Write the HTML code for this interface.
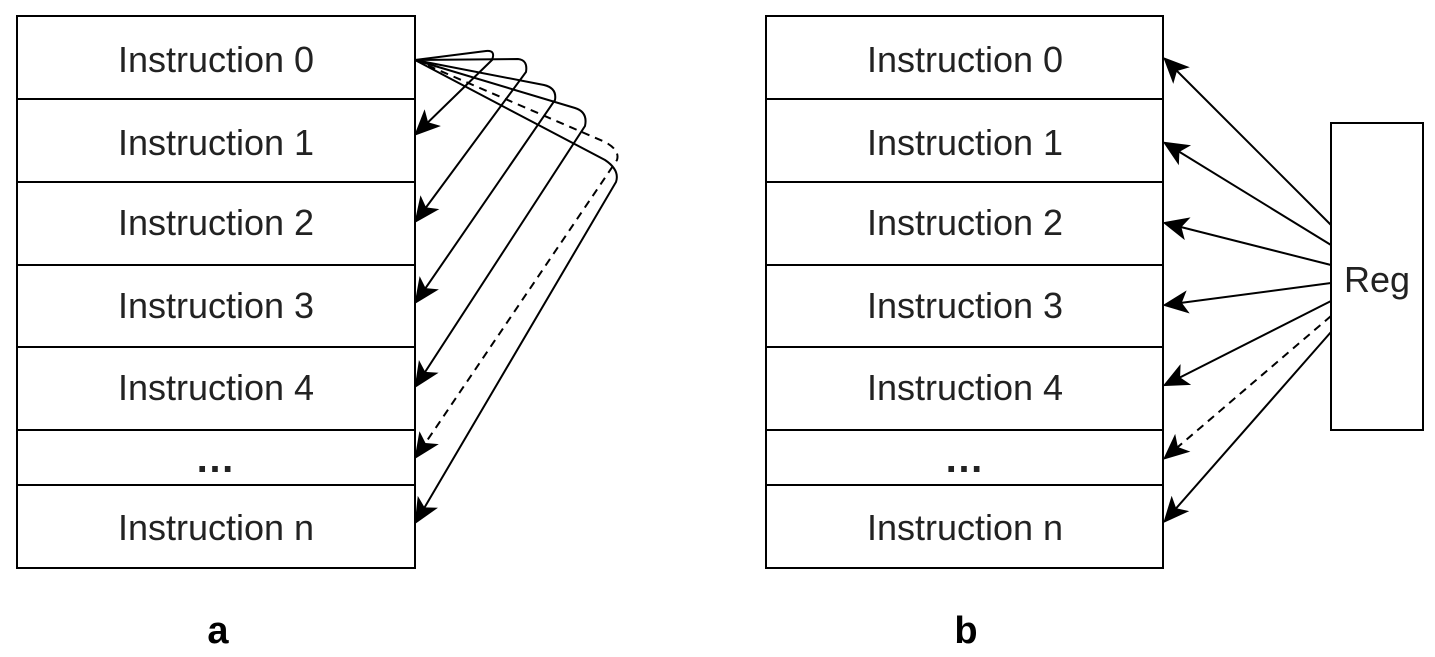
<!DOCTYPE html>
<html><head><meta charset="utf-8"><style>
html,body{margin:0;padding:0;background:#fff;}
svg{display:block;}
text{font-family:"Liberation Sans",Arial,sans-serif;}
</style></head><body>
<svg width="1435" height="657" viewBox="0 0 1435 657" xmlns="http://www.w3.org/2000/svg">
<defs>
<marker id="ah" viewBox="0 0 20 20" refX="18" refY="10" markerWidth="13" markerHeight="13" markerUnits="strokeWidth" orient="auto">
<path d="M0,1 L20,10 L0,19 L5,10 Z" fill="#000"/>
</marker>
</defs>
<g fill="#fff" stroke="#000" stroke-width="2">
<rect x="17" y="16" width="398" height="83"/>
<rect x="17" y="99" width="398" height="83"/>
<rect x="17" y="182" width="398" height="83"/>
<rect x="17" y="265" width="398" height="82"/>
<rect x="17" y="347" width="398" height="83"/>
<rect x="17" y="430" width="398" height="55"/>
<rect x="17" y="485" width="398" height="83"/>
<rect x="766" y="16" width="397" height="83"/>
<rect x="766" y="99" width="397" height="83"/>
<rect x="766" y="182" width="397" height="83"/>
<rect x="766" y="265" width="397" height="82"/>
<rect x="766" y="347" width="397" height="83"/>
<rect x="766" y="430" width="397" height="55"/>
<rect x="766" y="485" width="397" height="83"/>
<rect x="1331" y="123" width="92" height="307"/>
</g>
<g font-size="36" fill="#222" text-anchor="middle">
<text x="216" y="72">Instruction 0</text>
<text x="216" y="155">Instruction 1</text>
<text x="216" y="235">Instruction 2</text>
<text x="216" y="318">Instruction 3</text>
<text x="216" y="400">Instruction 4</text>
<text x="218" y="472" font-size="40" font-weight="bold" letter-spacing="6">…</text>
<text x="216" y="540">Instruction n</text>
<text x="965" y="72">Instruction 0</text>
<text x="965" y="155">Instruction 1</text>
<text x="965" y="235">Instruction 2</text>
<text x="965" y="318">Instruction 3</text>
<text x="965" y="400">Instruction 4</text>
<text x="967" y="472" font-size="40" font-weight="bold" letter-spacing="6">…</text>
<text x="965" y="540">Instruction n</text>
<text x="1377" y="292">Reg</text>
<text x="218" y="643" font-weight="bold" font-size="38" fill="#000">a</text>
<text x="966" y="643" font-weight="bold" font-size="38" fill="#000">b</text>
</g>
<g fill="none" stroke="#000" stroke-width="2" marker-end="url(#ah)">
<path d="M415,60 L486,51 Q496,50 492,60 L416,134"/>
<path d="M415,60 L518,59 Q528,60 526,72 L416,221"/>
<path d="M415,60 L544,85 Q557,88 555,100 L416,302"/>
<path d="M415,60 L575,108 Q588,112 585,126 L416,386"/>
<path d="M415,60 L605,142 Q620,150 617,160 L416,457" stroke-dasharray="8,6"/>
<path d="M415,60 L605,160 Q620,170 616,182 L416,522"/>
<path d="M1331,225 L1165,59"/>
<path d="M1331,245 L1165,143"/>
<path d="M1331,265 L1165,223"/>
<path d="M1331,283 L1165,305"/>
<path d="M1331,301 L1165,385"/>
<path d="M1331,316 L1165,458" stroke-dasharray="8,6"/>
<path d="M1331,332 L1165,521"/>
</g>
</svg>
</body></html>
